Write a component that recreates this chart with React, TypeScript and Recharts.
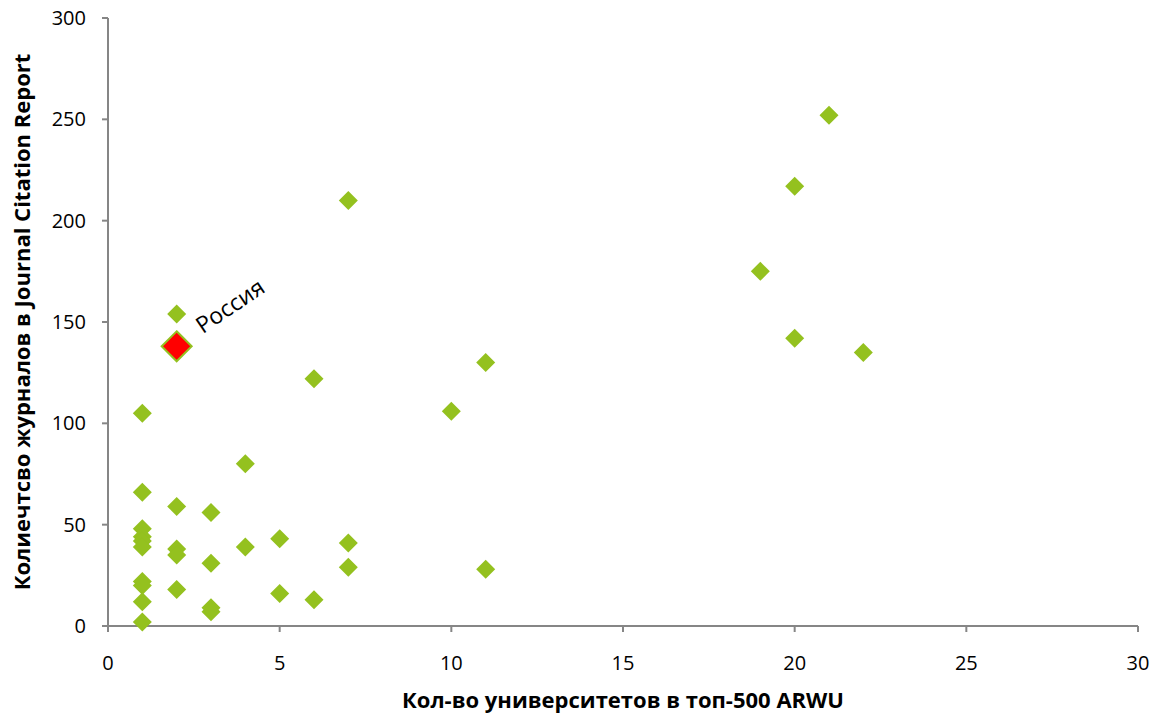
import React from 'react';
import {
  ScatterChart,
  Scatter,
  XAxis,
  YAxis,
  LabelList,
} from 'recharts';

// country points: universities in ARWU top-500 vs journals in JCR
const univCounts = [
  1, 1, 1, 1, 1, 1, 1, 1, 1, 1,
  2, 2, 2, 2, 2,
  3, 3, 3, 3,
  4, 4,
  5, 5,
  6, 6,
  7, 7, 7,
  10,
  11, 11,
  19,
  20, 20,
  21,
  22,
];
const journalCounts = [
  105, 66, 48, 44, 42, 39, 22, 20, 12, 2,
  154, 59, 38, 35, 18,
  56, 31, 9, 7,
  80, 39,
  43, 16,
  122, 13,
  210, 41, 29,
  106,
  130, 28,
  175,
  217, 142,
  252,
  135,
];

const russia = [{ x: 2, y: 138, name: 'Россия' }];

const xTicks = [0, 5, 10, 15, 20, 25, 30];
const yTicks = [0, 50, 100, 150, 200, 250, 300];

const points = univCounts.map((x, i) => ({ x, y: journalCounts[i] }));

const GREEN = '#94c11f';
const AXIS = '#868686';
const FONT = '"Open Sans", sans-serif';

const Diamond = (props: any) => {
  const { cx, cy } = props;
  const r = 9.5;
  return (
    <polygon
      points={`${cx},${cy - r} ${cx + r},${cy} ${cx},${cy + r} ${cx - r},${cy}`}
      fill={GREEN}
    />
  );
};

const RussiaDiamond = (props: any) => {
  const { cx, cy } = props;
  const r = 15;
  return (
    <polygon
      points={`${cx},${cy - r} ${cx + r},${cy} ${cx},${cy + r} ${cx - r},${cy}`}
      fill="#ff0000"
      stroke={GREEN}
      strokeWidth={2}
    />
  );
};

const RussiaLabel = (props: any) => {
  const { x, y, width, height, value } = props;
  const cx = x + (width || 0) / 2;
  const cy = y + (height || 0) / 2;
  const tx = cx + 26;
  const ty = cy - 12;
  return (
    <text
      x={tx}
      y={ty}
      transform={`rotate(-34 ${tx} ${ty})`}
      fontFamily={FONT}
      fontSize={23}
      fill="#000"
    >
      {value}
    </text>
  );
};

export default function App() {
  return (
    <div style={{ position: 'absolute', left: 0, top: 0, background: '#fff' }}>
      <ScatterChart
        width={1155}
        height={716}
        margin={{ top: 18, right: 17, bottom: 0, left: 0 }}
      >
        <XAxis
          type="number"
          dataKey="x"
          domain={[0, 30]}
          ticks={xTicks}
          height={90}
          stroke={AXIS}
          strokeWidth={2}
          tickSize={6}
          tick={{ fontSize: 20, fill: '#000', fontFamily: FONT }}
          tickMargin={24}
          label={{
            value: 'Кол-во университетов в топ-500 ARWU',
            position: 'insideBottom',
            offset: 8,
            style: { fontSize: 22, fontWeight: 'bold', fill: '#000', fontFamily: FONT },
          }}
        />
        <YAxis
          type="number"
          dataKey="y"
          domain={[0, 300]}
          ticks={yTicks}
          width={108}
          stroke={AXIS}
          strokeWidth={2}
          tickSize={6}
          tick={{ fontSize: 20, fill: '#000', fontFamily: FONT }}
          tickMargin={16}
          label={{
            value: 'Колиечтсво журналов в Journal Citation Report',
            angle: -90,
            position: 'insideLeft',
            offset: 22,
            style: { textAnchor: 'middle', fontSize: 22, fontWeight: 'bold', fill: '#000', fontFamily: FONT },
          }}
        />
        <Scatter data={points} shape={Diamond} isAnimationActive={false} />
        <Scatter data={russia} shape={RussiaDiamond} isAnimationActive={false}>
          <LabelList dataKey="name" content={RussiaLabel} />
        </Scatter>
      </ScatterChart>
    </div>
  );
}
